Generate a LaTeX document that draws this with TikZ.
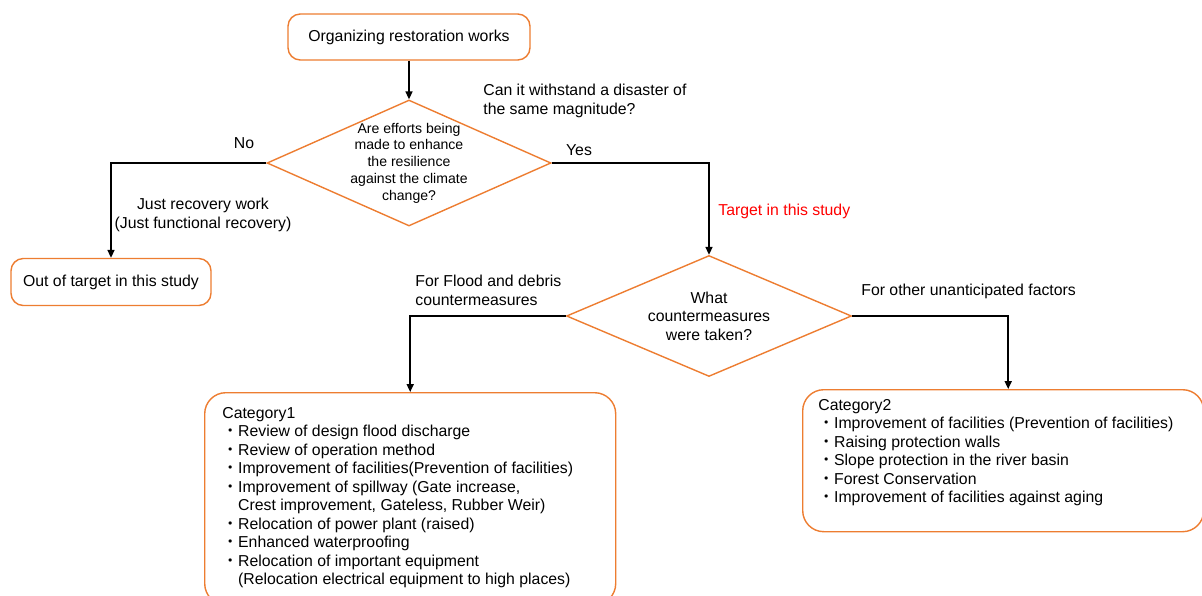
\documentclass[tikz,border=0pt]{standalone}
\usepackage{fontspec}
\setmainfont{Liberation Sans}
\newfontfamily\cjk{Noto Sans CJK JP}
\usetikzlibrary{arrows.meta,positioning,shapes.geometric,calc}
\newcommand{\bul}{{\cjk ・}}
\newcommand{\ind}{\phantom{\bul}}

\begin{document}
\begin{tikzpicture}[font=\fontsize{9}{10.5}\selectfont,
  box/.style={draw=zOrg, line width=0.8pt, rounded corners=7pt, fill=white, inner sep=0pt},
  bigbox/.style={draw=zOrg, line width=0.8pt, rounded corners=12pt, anchor=north west, inner sep=0pt},
  dmd/.style={draw=zOrg, line width=0.8pt, diamond, inner sep=0pt},
  dtxt/.style={align=center, inner sep=0pt},
  lbl/.style={align=left, inner sep=0pt},
  list/.style={anchor=north west, align=left, inner sep=0pt},
  arr/.style={-{Triangle[length=4.5pt,width=4pt]}, line width=0.85pt, black},
]
\definecolor{zOrg}{HTML}{ED7D31}
\definecolor{zRed}{HTML}{FF0000}
\useasboundingbox (0,0) rectangle (24.04,-11.92);
% ---- boxes ----
\node[box, minimum width=4.84cm, minimum height=0.92cm] (top) at (8.18,-0.74) {Organizing restoration works};
\node[dmd, minimum width=5.68cm, minimum height=2.52cm] (D1) at (8.18,-3.26) {};
\node[dtxt, font=\fontsize{8}{9.5}\selectfont] (D1txt) at (D1.center)
  {Are efforts being\\made to enhance\\the resilience\\against the climate\\change?};
\node[box, minimum width=4.0cm, minimum height=0.94cm] (out) at (2.22,-5.64) {Out of target in this study};
\node[dmd, minimum width=5.70cm, minimum height=2.42cm] (D2) at (14.18,-6.32) {};
\node[dtxt, font=\fontsize{9}{10.6}\selectfont] (D2txt) at (D2.center) {What\\countermeasures\\were taken?};
\node[bigbox, minimum width=8.22cm, minimum height=4.24cm] (cat1) at (4.08,-7.84) {};
\node[bigbox, minimum width=8.02cm, minimum height=2.84cm] (cat2) at (16.04,-7.78) {};
% ---- lists ----
\node[list] (cat1txt) at (4.44,-8.14)
  {Category1\\
   \bul Review of design flood discharge\\
   \bul Review of operation method\\
   \bul Improvement of facilities(Prevention of facilities)\\
   \bul Improvement of spillway (Gate increase,\\
   \ind Crest improvement, Gateless, Rubber Weir)\\
   \bul Relocation of power plant (raised)\\
   \bul Enhanced waterproofing\\
   \bul Relocation of important equipment\\
   \ind (Relocation electrical equipment to high places)};
\node[list] (cat2txt) at (16.36,-7.98)
  {Category2\\
   \bul Improvement of facilities (Prevention of facilities)\\
   \bul Raising protection walls\\
   \bul Slope protection in the river basin\\
   \bul Forest Conservation\\
   \bul Improvement of facilities against aging};
% ---- connectors ----
\draw[arr] (top.south) -- (D1.north);
\draw[arr] (D1.west) -| (out.north);
\draw[arr] (D1.east) -| (D2.north);
\draw[arr] (D2.west) -| (cat1.north);
\draw[arr] (D2.east) -| ([xshift=1mm]cat2.north);
% ---- labels ----
\node[lbl] (no) at (4.88,-2.86) {No};
\node[lbl] (yes) at (11.58,-3.0) {Yes};
\node[lbl, anchor=west] (qmag) at (9.66,-2.02) {Can it withstand a disaster of\\the same magnitude?};
\node[align=center, inner sep=0pt] (just) at (4.06,-4.30) {Just recovery work\\(Just functional recovery)};
\node[lbl, anchor=west, text=zRed] (tgt) at (14.36,-4.22) {Target in this study};
\node[lbl, anchor=west] (flood) at (8.30,-5.81) {For Flood and debris\\countermeasures};
\node[lbl, anchor=west] (other) at (17.22,-5.82) {For other unanticipated factors};
\end{tikzpicture}
\end{document}
